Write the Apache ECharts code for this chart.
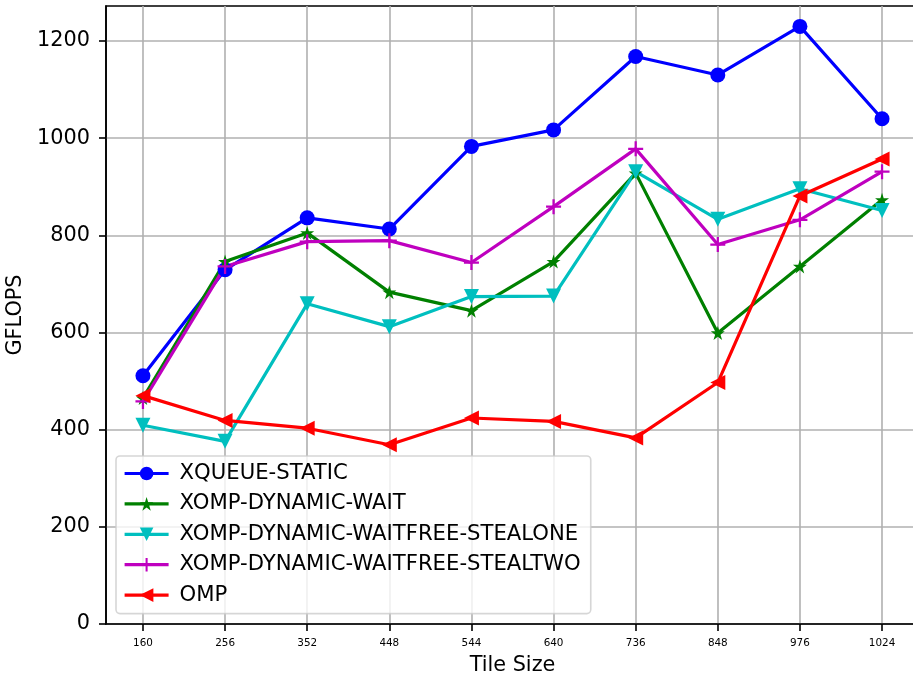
<!DOCTYPE html>
<html>
<head>
<meta charset="utf-8">
<script src="https://cdn.jsdelivr.net/npm/echarts@6/dist/echarts.min.js"></script>
<style>
  html, body { margin: 0; padding: 0; background: #fff; }
  #chart { width: 913px; height: 675px; }
</style>
</head>
<body>
<div id="chart"></div>
<script>
// Tile sizes along the x axis
const tileSizes = ['160', '256', '352', '448', '544', '640', '736', '848', '976', '1024'];
const yTicks = [0, 200, 400, 600, 800, 1000, 1200];

// GFLOPS per scheduler
const xqueueStatic   = [511, 729, 836, 813, 983, 1017, 1168, 1130, 1230, 1040];
const xompWait       = [465, 746, 805, 683, 645, 746, 928, 599, 736, 873];
const xompStealOne   = [409, 376, 659, 612, 674, 675, 931, 833, 896, 851];
const xompStealTwo   = [458, 736, 787, 789, 744, 859, 978, 781, 832, 931];
const omp            = [470, 419, 403, 369, 424, 417, 383, 497, 881, 957];

const FONT = 'DejaVu Sans';
const FS = 20.8;

const STAR = 'path://M100,0 L122.45,69.1 L195.11,69.1 L136.33,111.8 L158.78,180.9 L100,138.2 L41.22,180.9 L63.67,111.8 L4.89,69.1 L77.55,69.1 Z';
const PLUS = 'path://M8.5,0 H11.5 V8.5 H20 V11.5 H11.5 V20 H8.5 V11.5 H0 V8.5 H8.5 Z';
const TRI_DOWN = 'path://M0,0 L20,0 L10,20 Z';
const TRI_LEFT = 'path://M0,10 L20,0 L20,20 Z';

function pairs(values) {
  return values.map((v, i) => [i, v]);
}

function lineSeries(name, values, color, symbol, size) {
  return {
    name: name,
    type: 'line',
    data: pairs(values),
    symbol: symbol,
    symbolSize: size,
    showAllSymbol: true,
    lineStyle: { color: color, width: 3.2 },
    itemStyle: { color: color, borderWidth: 0 },
    emphasis: { disabled: true },
    animation: false
  };
}

const chart = echarts.init(document.getElementById('chart'), null, { renderer: 'canvas' });

chart.setOption({
  animation: false,
  backgroundColor: '#ffffff',
  grid: {
    left: 106, top: 6, right: -6, bottom: 51,
    show: true, borderColor: '#000', borderWidth: 1.6,
    containLabel: false,
    outerBoundsMode: 'none'
  },
  legend: {
    orient: 'vertical',
    left: 116, top: 456,
    padding: [7, 10, 8, 7],
    itemWidth: 44, itemHeight: 17, itemGap: 9.4,
    lineStyle: { width: 3.2 },
    backgroundColor: 'rgba(255,255,255,0.8)',
    borderColor: 'rgba(204,204,204,0.8)',
    borderWidth: 1.6,
    borderRadius: 4,
    textStyle: { fontFamily: FONT, fontSize: 21.2, color: '#000', lineHeight: 20, padding: [0, 0, 0, 6] },
    data: ['XQUEUE-STATIC', 'XOMP-DYNAMIC-WAIT', 'XOMP-DYNAMIC-WAITFREE-STEALONE', 'XOMP-DYNAMIC-WAITFREE-STEALTWO', 'OMP']
  },
  xAxis: {
    type: 'value',
    min: -0.45, max: 9.45,
    name: 'Tile Size',
    nameLocation: 'middle',
    nameGap: 31,
    nameTextStyle: { fontFamily: FONT, fontSize: FS, color: '#000' },
    axisLine: { show: true, onZero: false, lineStyle: { color: '#000', width: 1.6 } },
    axisTick: { show: true, length: 7, lineStyle: { color: '#000', width: 1.6 }, customValues: tileSizes.map((_, i) => i) },
    axisLabel: {
      customValues: tileSizes.map((_, i) => i),
      formatter: v => tileSizes[Math.round(v)],
      fontFamily: FONT, fontSize: 10.4, color: '#000', margin: 14
    },
    splitLine: { show: true, lineStyle: { color: '#b0b0b0', width: 1.6 } }
  },
  yAxis: {
    type: 'value',
    min: 0, max: 1272,
    name: 'GFLOPS',
    nameLocation: 'middle',
    nameGap: 69,
    nameTextStyle: { fontFamily: FONT, fontSize: FS, color: '#000' },
    axisLine: { show: true, onZero: false, lineStyle: { color: '#000', width: 1.6 } },
    axisTick: { show: true, length: 7, lineStyle: { color: '#000', width: 1.6 }, customValues: yTicks },
    axisLabel: {
      customValues: yTicks,
      formatter: v => String(v),
      fontFamily: FONT, fontSize: FS, color: '#000', margin: 16
    },
    splitLine: { show: true, lineStyle: { color: '#b0b0b0', width: 1.6 } }
  },
  series: [
    lineSeries('XQUEUE-STATIC', xqueueStatic, '#0000ff', 'circle', 15),
    lineSeries('XOMP-DYNAMIC-WAIT', xompWait, '#008000', STAR, 14),
    lineSeries('XOMP-DYNAMIC-WAITFREE-STEALONE', xompStealOne, '#00bfbf', TRI_DOWN, 15),
    lineSeries('XOMP-DYNAMIC-WAITFREE-STEALTWO', xompStealTwo, '#bf00bf', PLUS, 15),
    lineSeries('OMP', omp, '#ff0000', TRI_LEFT, 15)
  ]
});
</script>
</body>
</html>
